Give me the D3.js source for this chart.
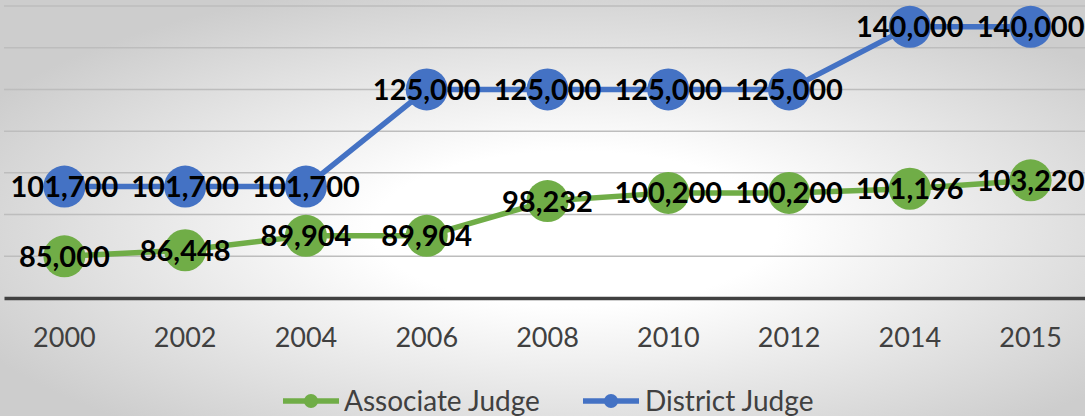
<!DOCTYPE html>
<html><head><meta charset="utf-8">
<script src="https://cdn.jsdelivr.net/npm/d3@7"></script>
<style>html,body{margin:0;padding:0;overflow:hidden;background:#fff}</style>
</head><body>
<svg id="chart" width="1085" height="416"></svg>
<script>
const categories = ["2000","2002","2004","2006","2008","2010","2012","2014","2015"];
const associateJudge = [85000, 86448, 89904, 89904, 98232, 100200, 100200, 101196, 103220];
const districtJudge = [101700, 101700, 101700, 125000, 125000, 125000, 125000, 140000, 140000];
const gridTicks = [75000, 85000, 95000, 105000, 115000, 125000, 135000, 145000];
const seriesNames = ["Associate Judge", "District Judge"];
const seriesColors = ["#70AD47", "#4472C4"];

const W = 1085, H = 416;
const svg = d3.select("#chart");
const defs = svg.append("defs");
const grad = defs.append("radialGradient").attr("id","bg")
  .attr("cx","0.53").attr("cy","0.55").attr("r","0.62").attr("fx","0.53").attr("fy","0.55");
grad.append("stop").attr("offset","0").attr("stop-color","#ffffff");
grad.append("stop").attr("offset","0.3").attr("stop-color","#ffffff");
grad.append("stop").attr("offset","1").attr("stop-color","#cdcdcd");
svg.append("rect").attr("width",W).attr("height",H).attr("fill","url(#bg)");

const x = d3.scaleBand().domain(categories).range([4, 1091]).padding(0);
const cx = c => x(c) + x.bandwidth()/2;
const y = d3.scaleLinear().domain([75000, 145000]).range([298, 6]);

// gridlines
svg.append("g").selectAll("line").data(gridTicks.filter(t => t !== 75000)).join("line")
  .attr("x1", 4).attr("x2", 1091)
  .attr("y1", d => y(d)).attr("y2", d => y(d))
  .attr("stroke", "#bdbdbd").attr("stroke-width", 1.5);

// x axis
const xAxis = d3.axisBottom(x).tickSize(0).tickPadding(0);
const gx = svg.append("g").attr("transform", `translate(0,${y(75000)})`).call(xAxis);
gx.select(".domain").attr("stroke","#404040").attr("stroke-width",3.5);
gx.selectAll("text").attr("fill","#404040").attr("font-family","Lato, 'Open Sans', sans-serif")
  .attr("font-size","27px").attr("dy", null).attr("y", 49);

const series = [associateJudge, districtJudge];
const line = d3.line().x((d,i) => cx(categories[i])).y(d => y(d));

series.forEach((vals, si) => {
  svg.append("path").datum(vals).attr("d", line)
    .attr("fill","none").attr("stroke", seriesColors[si]).attr("stroke-width", 5.5)
    .attr("stroke-linejoin","round").attr("stroke-linecap","round");
});
series.forEach((vals, si) => {
  svg.append("g").selectAll("circle").data(vals).join("circle")
    .attr("cx", (d,i) => cx(categories[i])).attr("cy", d => y(d)).attr("r", 21)
    .attr("fill", seriesColors[si]);
});
const fmt = d3.format(",");
series.forEach((vals, si) => {
  svg.append("g").selectAll("text").data(vals).join("text")
    .attr("x", (d,i) => cx(categories[i])).attr("y", d => y(d) + 10.5)
    .attr("text-anchor","middle")
    .attr("font-family","Lato, sans-serif").attr("font-weight","bold")
    .attr("font-size","29px").attr("fill","#000")
    .text(d => fmt(d));
});

// legend
const legendItems = [{x:283, tx:344}, {x:583, tx:645}];
legendItems.forEach((it, i) => {
  const g = svg.append("g");
  g.append("line").attr("x1", it.x).attr("x2", it.x + 56).attr("y1", 401).attr("y2", 401)
    .attr("stroke", seriesColors[i]).attr("stroke-width", 5.5);
  g.append("circle").attr("cx", it.x + 28).attr("cy", 401).attr("r", 7).attr("fill", seriesColors[i]);
  g.append("text").attr("x", it.tx).attr("y", 411)
    .attr("font-family","Lato, sans-serif").attr("font-size","28px").attr("fill","#404040")
    .text(seriesNames[i]);
});
</script>
</body></html>
